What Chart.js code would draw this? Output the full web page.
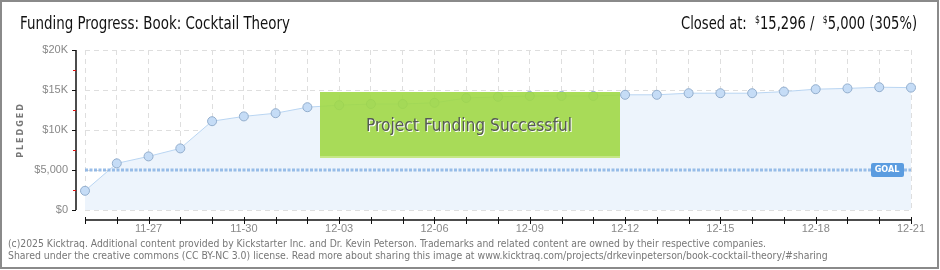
<!DOCTYPE html>
<html>
<head>
<meta charset="utf-8">
<script src="https://cdn.jsdelivr.net/npm/chart.js@4.4.1/dist/chart.umd.min.js"></script>
<style>
  html, body { margin: 0; padding: 0; background: #fff; }
  canvas { display: block; }
</style>
</head>
<body>
<canvas id="fundChart" width="940" height="270"></canvas>
<script>
// Daily pledged totals
const dates = ['11-25', '11-26', '11-27', '11-28', '11-29', '11-30',
  '12-01', '12-02', '12-03', '12-04', '12-05', '12-06', '12-07', '12-08',
  '12-09', '12-10', '12-11', '12-12', '12-13', '12-14', '12-15', '12-16',
  '12-17', '12-18', '12-19', '12-20', '12-21'];
const pledged = [2400, 5830, 6700, 7700, 11100, 11700, 12100, 12850, 13100,
  13250, 13250, 13400, 14000, 14150, 14250, 14250, 14250, 14400, 14400,
  14600, 14600, 14600, 14800, 15100, 15200, 15350, 15296];
const goal = 5000;
const yTicks = [0, 5000, 10000, 15000, 20000];
const yTickLabels = ['$0', '$5,000', '$10K', '$15K', '$20K'];
const minorTicks = [2500, 7500, 12500, 17500];

const titleText = 'Funding Progress: Book: Cocktail Theory';
const footer1 = '(c)2025 Kicktraq. Additional content provided by Kickstarter Inc. and Dr. Kevin Peterson. Trademarks and related content are owned by their respective companies.';
const footer2 = 'Shared under the creative commons (CC BY-NC 3.0) license. Read more about sharing this image at www.kicktraq.com/projects/drkevinpeterson/book-cocktail-theory/#sharing';

const narrow = "'DejaVu Sans Condensed', sans-serif";

// draw a run of text pieces squeezed into a given width
function drawRun(ctx, parts, x0, y, width, align) {
  let total = 0;
  parts.forEach(p => { ctx.font = p[1]; total += ctx.measureText(p[0]).width; });
  const sx = Math.min(1, width / total);
  ctx.save();
  const left = align === 'right' ? x0 - total * sx : x0;
  ctx.translate(left, y);
  ctx.scale(sx, 1);
  let x = 0;
  parts.forEach(p => {
    ctx.font = p[1];
    ctx.fillText(p[0], x, p[2]);
    x += ctx.measureText(p[0]).width;
  });
  ctx.restore();
}

// overlay: goal line, success banner, goal tag, axes, header, footer, frame
const overlay = {
  id: 'overlay',
  afterDatasetsDraw(chart) {
    const { ctx, chartArea, scales } = chart;
    const gy = scales.y.getPixelForValue(goal);

    ctx.save();
    ctx.strokeStyle = 'rgba(135,178,228,0.85)';
    ctx.lineWidth = 3;
    ctx.setLineDash([3, 1.5]);
    ctx.beginPath();
    ctx.moveTo(chartArea.left, gy);
    ctx.lineTo(chartArea.right, gy);
    ctx.stroke();
    ctx.setLineDash([]);

    // success banner
    ctx.fillStyle = 'rgba(160,216,70,0.9)';
    ctx.fillRect(320, 92, 300, 66);
    ctx.fillStyle = 'rgba(200,232,140,0.9)';
    ctx.fillRect(320, 156, 300, 2);
    ctx.textBaseline = 'middle';
    ctx.fillStyle = '#ffffff';
    drawRun(ctx, [['Project Funding Successful', '18px ' + narrow, 0]], 367, 127, 206, 'left');
    ctx.fillStyle = '#555a55';
    drawRun(ctx, [['Project Funding Successful', '18px ' + narrow, 0]], 366, 126, 206, 'left');

    // goal tag
    ctx.fillStyle = '#5b9ce0';
    ctx.beginPath();
    ctx.roundRect(871, gy - 7, 33, 14, 2);
    ctx.fill();
    ctx.fillStyle = '#ffffff';
    ctx.font = 'bold 9px ' + narrow;
    ctx.textAlign = 'center';
    ctx.fillText('GOAL', 887, gy);
    ctx.restore();
  },
  afterDraw(chart) {
    const { ctx, chartArea, scales } = chart;
    ctx.save();

    // y axis line + ticks
    ctx.strokeStyle = '#111';
    ctx.lineWidth = 1.5;
    ctx.beginPath();
    ctx.moveTo(76, scales.y.getPixelForValue(20000));
    ctx.lineTo(76, scales.y.getPixelForValue(0));
    ctx.stroke();
    ctx.lineWidth = 1;
    yTicks.forEach(v => {
      const y = Math.round(scales.y.getPixelForValue(v)) + 0.5;
      ctx.beginPath(); ctx.moveTo(72, y); ctx.lineTo(76, y); ctx.stroke();
    });
    ctx.strokeStyle = '#e01010';
    minorTicks.forEach(v => {
      const y = Math.round(scales.y.getPixelForValue(v)) + 0.5;
      ctx.beginPath(); ctx.moveTo(73, y); ctx.lineTo(76, y); ctx.stroke();
    });

    // x axis line + ticks
    ctx.strokeStyle = '#111';
    ctx.lineWidth = 1.5;
    ctx.beginPath();
    ctx.moveTo(chartArea.left, 220);
    ctx.lineTo(chartArea.right, 220);
    ctx.stroke();
    ctx.lineWidth = 1;
    dates.forEach((d, i) => {
      const x = Math.round(scales.x.getPixelForValue(i)) + 0.5;
      ctx.beginPath(); ctx.moveTo(x, 217); ctx.lineTo(x, 224); ctx.stroke();
    });

    // y axis title
    ctx.save();
    ctx.translate(21, 130);
    ctx.rotate(-Math.PI / 2);
    ctx.font = 'bold 8px DejaVu Sans, sans-serif';
    ctx.letterSpacing = '2px';
    ctx.fillStyle = '#777';
    ctx.textAlign = 'center';
    ctx.textBaseline = 'middle';
    ctx.fillText('PLEDGED', 0, 0);
    ctx.restore();

    // header
    ctx.fillStyle = '#111';
    ctx.textBaseline = 'alphabetic';
    ctx.textAlign = 'left';
    drawRun(ctx, [[titleText, '17px ' + narrow, 0]], 20, 29, 270, 'left');
    drawRun(ctx, [
      ['Closed at:  ', '17px ' + narrow, 0],
      ['$', '10px ' + narrow, -6],
      ['15,296 /  ', '17px ' + narrow, 0],
      ['$', '10px ' + narrow, -6],
      ['5,000 (305%)', '17px ' + narrow, 0]
    ], 917, 29, 236, 'right');

    // footer
    ctx.fillStyle = '#777';
    ctx.font = '10.4px DejaVu Sans Condensed, sans-serif';
    ctx.textBaseline = 'middle';
    ctx.fillText(footer1, 8, 244, 758);
    ctx.fillText(footer2, 8, 256, 821);

    // frame
    ctx.strokeStyle = '#8a8a8a';
    ctx.lineWidth = 2;
    ctx.strokeRect(1, 1, 937, 267);
    ctx.restore();
  }
};

new Chart(document.getElementById('fundChart'), {
  type: 'line',
  data: {
    labels: dates,
    datasets: [{
      label: 'Pledged',
      data: pledged,
      borderColor: '#b9d5f2',
      borderWidth: 1,
      backgroundColor: '#edf4fc',
      fill: 'origin',
      tension: 0,
      pointRadius: 4.5,
      pointBackgroundColor: '#c5dcf6',
      pointBorderColor: '#93aecd',
      pointBorderWidth: 1
    }]
  },
  options: {
    responsive: false,
    animation: false,
    layout: { padding: { left: 0, top: 50, right: 29, bottom: 0 } },
    plugins: {
      legend: { display: false },
      tooltip: { enabled: false }
    },
    scales: {
      x: {
        offset: false,
        afterFit(scale) { scale.height = 60; },
        grid: { color: '#dedede', drawTicks: false },
        border: { display: false, dash: [5, 4] },
        ticks: {
          autoSkip: false,
          maxRotation: 0,
          padding: 12,
          color: '#888',
          font: { family: 'Liberation Sans, sans-serif', size: 11 },
          callback: (v, i) => (i % 3 === 2 ? dates[i] : '')
        }
      },
      y: {
        min: 0,
        max: 20000,
        afterFit(scale) { scale.width = 85; },
        afterBuildTicks(scale) { scale.ticks = yTicks.map(v => ({ value: v })); },
        grid: { color: '#dedede', drawTicks: false },
        border: { display: false, dash: [5, 4] },
        ticks: {
          padding: 17,
          color: '#888',
          font: { family: 'Liberation Sans, sans-serif', size: 11 },
          callback: v => yTickLabels[yTicks.indexOf(v)]
        }
      }
    }
  },
  plugins: [overlay]
});
</script>
</body>
</html>
